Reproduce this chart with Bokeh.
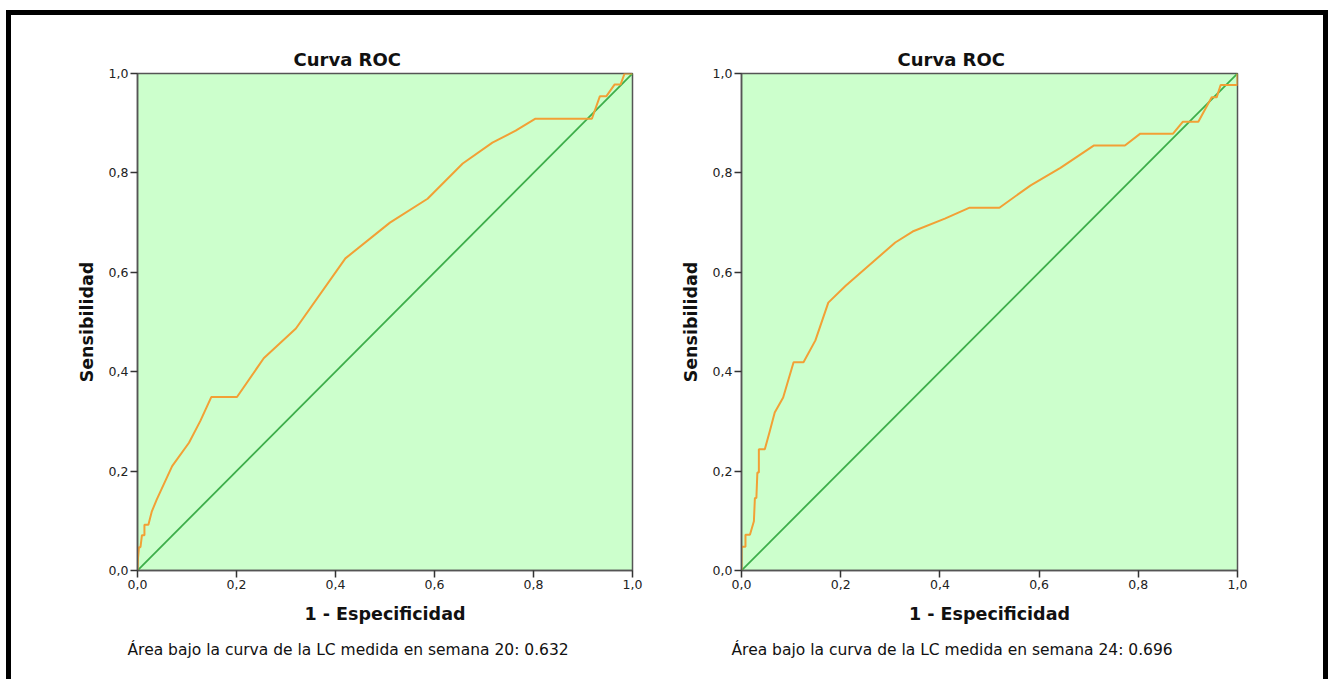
from bokeh.plotting import figure
from bokeh.layouts import row
from bokeh.models import Range1d, FixedTicker, Title
from bokeh.embed import file_html
from bokeh.resources import INLINE

# ROC curve points (1 - specificity, sensitivity)
week20_fpr = [0.0, 0.001, 0.003, 0.006, 0.009, 0.014, 0.014, 0.022, 0.029, 0.039, 0.07, 0.104,
              0.127, 0.149, 0.201, 0.255, 0.32, 0.42, 0.51, 0.586, 0.657, 0.717, 0.764, 0.804,
              0.918, 0.934, 0.947, 0.964, 0.976, 0.984, 1.0]
week20_tpr = [0.0, 0.025, 0.047, 0.047, 0.071, 0.071, 0.092, 0.092, 0.119, 0.143, 0.21, 0.257,
              0.301, 0.349, 0.349, 0.427, 0.487, 0.628, 0.70, 0.748, 0.819, 0.861, 0.885, 0.909,
              0.909, 0.954, 0.954, 0.978, 0.978, 1.0, 1.0]

week24_fpr = [0.0, 0.0, 0.008, 0.008, 0.017, 0.025, 0.027, 0.030, 0.032, 0.035, 0.035, 0.047,
              0.057, 0.067, 0.084, 0.105, 0.125, 0.149, 0.175, 0.21, 0.31, 0.345, 0.41, 0.46,
              0.52, 0.583, 0.643, 0.71, 0.773, 0.804, 0.87, 0.89, 0.921, 0.948, 0.958, 0.966,
              1.0, 1.0]
week24_tpr = [0.0, 0.048, 0.048, 0.072, 0.072, 0.099, 0.146, 0.146, 0.197, 0.197, 0.244, 0.244,
              0.28, 0.318, 0.348, 0.419, 0.419, 0.463, 0.539, 0.573, 0.66, 0.682, 0.708, 0.73,
              0.73, 0.775, 0.81, 0.855, 0.855, 0.879, 0.879, 0.903, 0.903, 0.952, 0.952, 0.977,
              0.977, 1.0]

diag = [0.0, 1.0]
tick_values = [0.0, 0.2, 0.4, 0.6, 0.8, 1.0]
tick_labels = ["0,0", "0,2", "0,4", "0,6", "0,8", "1,0"]

chart_title = "Curva ROC"
x_label = "1 - Especificidad"
y_label = "Sensibilidad"
notes = ["Área bajo la curva de la LC medida en semana 20: 0.632",
         "Área bajo la curva de la LC medida en semana 24: 0.696"]

FONT = "DejaVu Sans"
ORANGE = "#F2A035"
GREEN = "#3DAE4A"
PANEL_BG = "#CCFFCC"


def roc_panel(fpr, tpr, note, width, left_pad, right_pad):
    p = figure(width=width, height=664, output_backend="svg", toolbar_location=None,
               x_range=Range1d(0, 1), y_range=Range1d(0, 1),
               min_border_left=left_pad, min_border_right=right_pad,
               min_border_top=58, min_border_bottom=109)
    p.background_fill_color = PANEL_BG
    p.border_fill_color = "white"
    p.outline_line_color = "#555555"
    p.outline_line_width = 1.5
    p.grid.visible = False

    p.title.text = chart_title
    p.title.align = "left"
    p.title.offset = 156
    p.title.text_font = FONT
    p.title.text_font_size = "18px"
    p.title.text_font_style = "bold"
    p.title.text_color = "#111111"
    p.title.standoff = 8

    ticks = dict(zip(tick_values, tick_labels))
    for ax in (p.xaxis[0], p.yaxis[0]):
        ax.ticker = FixedTicker(ticks=tick_values)
        ax.major_label_overrides = ticks
        ax.minor_tick_line_color = None
        ax.major_tick_out = 7
        ax.major_tick_in = 0
        ax.major_tick_line_color = "#333333"
        ax.major_tick_line_width = 1.5
        ax.axis_line_color = "#555555"
        ax.axis_line_width = 1.5
        ax.major_label_text_font = FONT
        ax.major_label_text_font_size = "12.5px"
        ax.major_label_text_color = "#222222"
        ax.major_label_standoff = 2
        ax.axis_label_text_font = FONT
        ax.axis_label_text_font_size = "17.5px"
        ax.axis_label_text_font_style = "bold"
        ax.axis_label_text_color = "#111111"
    p.xaxis.axis_label = x_label
    p.yaxis.axis_label = y_label
    p.xaxis.axis_label_standoff = 12
    p.yaxis.axis_label_standoff = 9

    p.line(diag, diag, line_color=GREEN, line_width=1.8)
    p.line(fpr, tpr, line_color=ORANGE, line_width=2)

    foot = Title(text=note, align="left", offset=-10, text_font=FONT,
                 text_font_size="15.5px", text_font_style="normal", text_color="#111111",
                 standoff=24)
    p.add_layout(foot, "below")
    return p


p1 = roc_panel(week20_fpr, week20_tpr, notes[0], 654, 126, 33)
p2 = roc_panel(week24_fpr, week24_tpr, notes[1], 658, 76, 86)

page = row(p1, p2, styles={"border": "5px solid black", "border-bottom": "none",
                           "margin-left": "6px", "margin-top": "10px",
                           "box-sizing": "content-box"})

open("out.html", "w").write(file_html(page, INLINE))
